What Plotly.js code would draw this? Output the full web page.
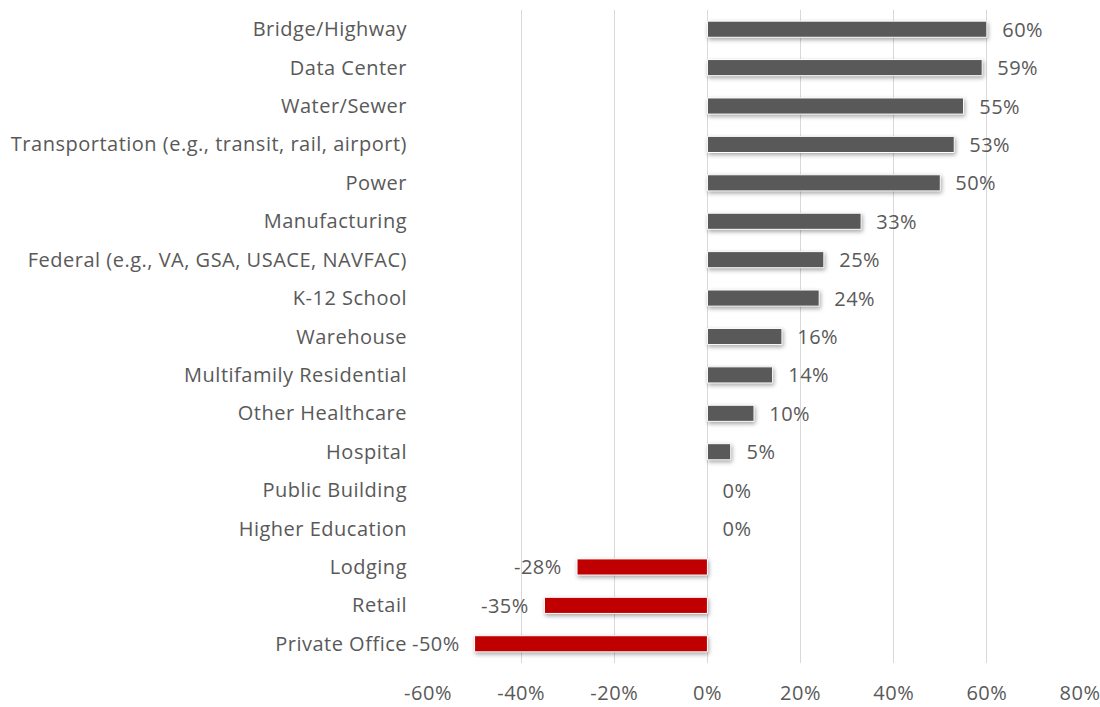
<!DOCTYPE html>
<html>
<head>
<meta charset="utf-8">
<script src="https://cdn.plot.ly/plotly-3.0.1.min.js"></script>
<style>
html,body{margin:0;padding:0;background:#fff;}
#chart{width:1100px;height:707px;}
#chart text{letter-spacing:0.5px;}
#chart .bars path{filter:drop-shadow(1px 2px 2px rgba(0,0,0,0.35));}
</style>
</head>
<body>
<div id="chart"></div>
<script>
const categories = ["Bridge/Highway","Data Center","Water/Sewer","Transportation (e.g., transit, rail, airport)","Power","Manufacturing","Federal (e.g., VA, GSA, USACE, NAVFAC)","K-12 School","Warehouse","Multifamily Residential","Other Healthcare","Hospital","Public Building","Higher Education","Lodging","Retail","Private Office"];
const values = [60,59,55,53,50,33,25,24,16,14,10,5,0,0,-28,-35,-50];
const tickVals = [-60,-40,-20,0,20,40,60,80];
const tickText = ["-60%","-40%","-20%","0%","20%","40%","60%","80%"];
const posColor = "#595959", negColor = "#C00000";

const fontFam = "'Open Sans', sans-serif";
const textColor = "#595959";
const fs = 20;

const trace = {
  type: "bar", orientation: "h",
  x: values, y: categories,
  marker: {
    color: values.map(v => v < 0 ? negColor : posColor),
    line: {color: "#ffffff", width: values.map(v => v === 0 ? 0 : 1)}
  },
  hoverinfo: "none"
};

const annotations = values.map((v, i) => ({
  x: v, y: categories[i], xref: "x", yref: "y",
  text: v + "%", showarrow: false,
  xanchor: v < 0 ? "right" : "left",
  xshift: v < 0 ? -14 : 14,
  font: {family: fontFam, size: fs, color: textColor}
}));

const layout = {
  width: 1100, height: 707,
  margin: {l: 428, r: 20, t: 10, b: 44},
  paper_bgcolor: "#fff", plot_bgcolor: "#fff",
  showlegend: false,
  bargap: 0.58,
  xaxis: {
    range: [-60, 80], tickvals: tickVals, ticktext: tickText,
    showgrid: true, gridcolor: "#d9d9d9", gridwidth: 1,
    zeroline: true, zerolinecolor: "#d9d9d9", zerolinewidth: 1,
    showline: false, ticks: "",
    ticklabelstandoff: 16,
    tickfont: {family: fontFam, size: fs, color: textColor},
    fixedrange: true
  },
  yaxis: {
    autorange: "reversed", showgrid: false, zeroline: false, showline: false, ticks: "",
    ticklabelstandoff: 20,
    tickfont: {family: fontFam, size: fs, color: textColor},
    fixedrange: true
  },
  annotations: annotations
};

Plotly.newPlot("chart", [trace], layout, {displayModeBar: false, staticPlot: true});
</script>
</body>
</html>
